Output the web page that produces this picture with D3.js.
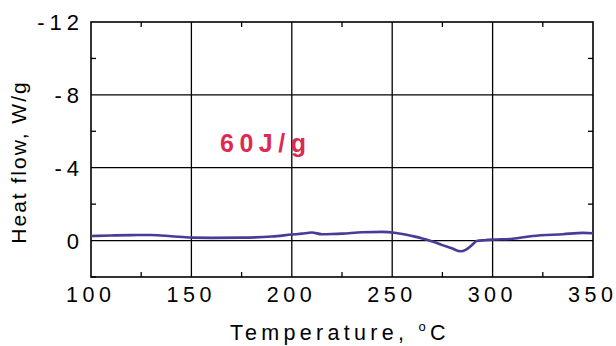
<!DOCTYPE html>
<html><head><meta charset="utf-8">
<script src="https://cdn.jsdelivr.net/npm/d3@7"></script>
<style>body{margin:0;background:#fff}svg{display:block}text{font-family:Arial,"Liberation Sans",sans-serif}</style>
</head><body><svg id="c" width="616" height="346"></svg>
<script>
const temps = [100,110,120,130,140,150,160,175,190,200,205,210,215,220,225,235,245,252,260,265,270,275,280,284,287,290,292,296,300,310,320,335,345,350];
const heatFlow = [-0.25,-0.28,-0.3,-0.31,-0.24,-0.16,-0.15,-0.16,-0.22,-0.33,-0.38,-0.44,-0.35,-0.36,-0.38,-0.46,-0.48,-0.42,-0.25,-0.12,0.05,0.25,0.44,0.59,0.48,0.22,0.02,-0.02,-0.05,-0.1,-0.25,-0.35,-0.42,-0.4];
const xTicks = [100,150,200,250,300,350];
const yTicks = [-12,-8,-4,0];
const annotation = "60J/g";

const svg = d3.select("#c");
const L=91,R=593,T=22,B=277;
const x = d3.scaleLinear().domain([100,350]).range([L,R]);
const y = d3.scaleLinear().domain([-12,2]).range([T,B]);

// grid
svg.append("g").selectAll("line").data(xTicks.slice(1,-1)).join("line")
  .attr("x1",d=>x(d)).attr("x2",d=>x(d)).attr("y1",T).attr("y2",B)
  .attr("stroke","#000").attr("stroke-width",1.3);
svg.append("g").selectAll("line").data(yTicks.slice(1)).join("line")
  .attr("x1",L).attr("x2",R).attr("y1",d=>y(d)).attr("y2",d=>y(d))
  .attr("stroke","#000").attr("stroke-width",1.3);

// minor ticks
const xMinor=[125,175,225,275,325], yMinor=[-10,-6,-2,2];
const mt = svg.append("g").attr("stroke","#000").attr("stroke-width",1.3);
xMinor.forEach(v=>{
  mt.append("line").attr("x1",x(v)).attr("x2",x(v)).attr("y1",B).attr("y2",B-5);
  mt.append("line").attr("x1",x(v)).attr("x2",x(v)).attr("y1",T).attr("y2",T+5);
});
yMinor.forEach(v=>{
  mt.append("line").attr("x1",L).attr("x2",L+5).attr("y1",y(v)).attr("y2",y(v));
  mt.append("line").attr("x1",R).attr("x2",R-5).attr("y1",y(v)).attr("y2",y(v));
});

// frame
svg.append("rect").attr("x",L).attr("y",T).attr("width",R-L).attr("height",B-T)
  .attr("fill","none").attr("stroke","#000").attr("stroke-width",1.6);

// tick labels (spacing via dx so no trailing gap)
const sp = s => Array.from(String(s)).map((c,i)=>i===0?0:4.5).join(" ");
svg.append("g").selectAll("text").data(xTicks).join("text")
  .attr("x",d=>x(d)-2.5).attr("y",302).attr("text-anchor","middle")
  .attr("dx",d=>sp(d))
  .style("font-size","21.5px").text(d=>d);
svg.append("g").selectAll("text").data(yTicks).join("text")
  .attr("x",84).attr("y",d=>y(d)+8).attr("text-anchor","end")
  .style("font-size","22px").style("letter-spacing","5px").text(d=>d);

// line
svg.append("path").datum(temps.map((t,i)=>[t,heatFlow[i]]))
  .attr("d",d3.line().x(d=>x(d[0])).y(d=>y(d[1])).curve(d3.curveMonotoneX))
  .attr("fill","none").attr("stroke","#4b3a98").attr("stroke-width",2.6);

// annotation
svg.append("text").attr("x",220).attr("y",152)
  .style("font-size","25px").style("font-weight","bold").style("letter-spacing","5.5px")
  .attr("fill","#dc2a52").text(annotation);

// axis titles
const xt = svg.append("text").attr("x",230).attr("y",340)
  .style("font-size","21.5px").style("letter-spacing","4.3px");
xt.append("tspan").text("Temperature, ");
xt.append("tspan").attr("dy",-9).style("font-size","13px").text("o");
xt.append("tspan").attr("dy",9).text("C");

svg.append("text").attr("transform","translate(26,162) rotate(-90)")
  .attr("text-anchor","middle").style("font-size","21px").style("letter-spacing","2px")
  .text("Heat flow, W/g");
</script></body></html>
